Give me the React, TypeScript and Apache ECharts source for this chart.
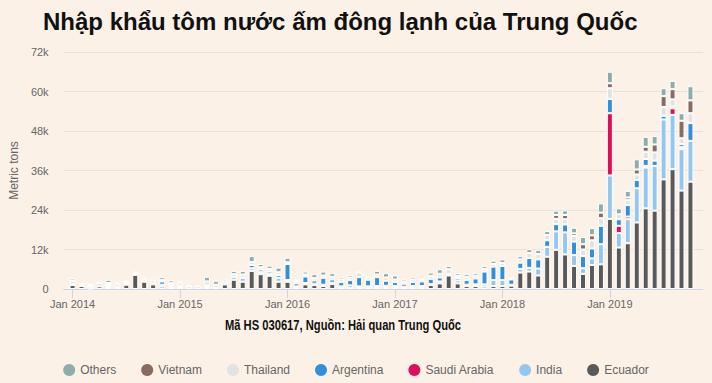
import { useEffect, useRef } from "react";
import * as echarts from "echarts";

// Monthly imports, thousand metric tons, Jan 2014 .. Oct 2019
const tickIndexes = [0, 12, 24, 36, 48, 60];
const tickLabels = ["Jan 2014", "Jan 2015", "Jan 2016", "Jan 2017", "Jan 2018", "Jan 2019"];
const yMax = 72;
const yStep = 12;

const ecuador = [
  1.2, 0.9, 0.1, 0.8, 0.6, 0.4, 1.3, 4.3, 2.2, 1.4, 0.7, 0.4,
  0.3, 0, 0, 0.6, 0.3, 1.4, 2.8, 2.2, 5.5, 4.5, 4.0, 2.2,
  2.2, 0.5, 1.4, 1.2, 0.9, 1.5, 0.4, 0.3, 0.6, 0.5, 0.6, 0.6,
  0.4, 0.3, 0.4, 0.5, 1.2, 1.7, 4.1, 1.7, 0.9, 0.9, 0.7, 0.9,
  0.9, 1.0, 5.0, 5.3, 4.1, 9.8, 11.9, 10.5, 7.0, 4.6, 7.3, 7.5,
  21.3, 12.6, 13.9, 20.2, 24.5, 23.8, 33.3, 36.4, 29.9, 32.6,
];
const india = [
  0.5, 0.2, 0.6, 0, 0.6, 0.3, 0.3, 0, 0.3, 0.5, 0.6, 0.5,
  0.4, 0, 0, 0.5, 0, 0, 0.9, 1.2, 0.8, 0.6, 0.6, 1.2,
  0.5, 0.3, 0.4, 0.4, 0.4, 0.4, 0.4, 0.8, 0.2, 0.3, 0.3, 0.4,
  0.5, 0.4, 0.5, 0.4, 0.3, 0.6, 0.5, 0.9, 0.4, 0.5, 0.7, 1.8,
  1.8, 0.3, 1.1, 1.1, 2.1, 3.0, 5.6, 6.7, 3.3, 1.7, 2.0, 6.1,
  13.2, 4.4, 7.3, 10.4, 12.4, 13.6, 18.2, 16.5, 12.6, 12.4,
];
const saudiArabia = [
  0, 0, 0, 0, 0, 0, 0, 0, 0, 0, 0, 0,
  0, 0, 0, 0, 0, 0, 0, 0, 0, 0, 0, 0,
  0, 0, 0, 0, 0, 0, 0, 0, 0, 0, 0, 0,
  0, 0, 0, 0, 0, 0, 0, 0, 0, 0, 0, 0,
  0, 0, 0, 0, 0, 0, 0, 0, 0, 0, 0, 0,
  18.9, 2.2, 0.8, 0, 0.5, 0, 0, 2.0, 0.6, 0,
];
const argentina = [
  0.6, 0, 0, 0, 0, 0, 0, 0, 0, 0, 1.0, 0.4,
  0.3, 0, 0, 0, 0, 0, 0, 0, 1.0, 0.8, 0.7, 0.8,
  4.9, 0.9, 2.0, 1.0, 2.1, 1.0, 1.3, 1.6, 2.8, 2.0, 2.7, 1.5,
  1.2, 0.9, 1.2, 1.4, 1.6, 1.2, 0, 0.7, 1.4, 1.8, 3.9, 4.1,
  4.3, 1.6, 1.9, 3.0, 2.8, 2.0, 2.2, 2.4, 4.1, 3.7, 3.0, 5.6,
  4.3, 2.0, 3.5, 2.5, 2.1, 1.6, 1.1, 0.5, 0.9, 5.4,
];
const thailand = [
  0.3, 0.3, 0.5, 1.0, 0.6, 0.9, 0.6, 0.6, 0.6, 0.8, 0.5, 0.6,
  0.9, 0.8, 0.8, 1.2, 1.0, 0.9, 0.8, 1.0, 0.9, 0.7, 0.8, 0.9,
  0.5, 0.7, 0.6, 0.7, 0.7, 0.8, 0.8, 0.8, 1.4, 0.7, 0.8, 1.0,
  0.8, 0.7, 0.8, 0.6, 0.9, 1.1, 1.4, 0.7, 0.9, 0.8, 0.8, 0.8,
  0.9, 0.5, 1.0, 1.5, 1.6, 1.6, 1.6, 1.6, 1.7, 2.0, 2.5, 2.3,
  3.3, 1.5, 1.5, 1.7, 2.2, 2.5, 2.7, 2.2, 1.8, 3.0,
];
const vietnam = [
  0, 0, 0, 0, 0, 0, 0, 0, 0, 0, 0, 0,
  0, 0, 0, 0, 0, 0, 0, 0, 0, 0, 0, 0,
  0, 0, 0, 0, 0, 0, 0, 0, 0, 0, 0, 0,
  0, 0, 0, 0, 0, 0, 0, 0, 0, 0, 0, 0,
  0, 0, 0, 0, 0, 0, 1.2, 1.3, 0.8, 1.6, 1.5, 1.7,
  1.5, 0, 0.8, 1.5, 1.5, 2.4, 3.3, 3.1, 5.3, 3.9,
];
const others = [
  0.7, 0.3, 0.2, 0.2, 1.0, 0.4, 0.3, 0.4, 0.6, 0.7, 0.9, 0.8,
  0.5, 0.4, 0.4, 1.4, 1.2, 0.6, 1.0, 1.1, 1.8, 1.0, 1.0, 1.4,
  1.4, 0.5, 0.9, 1.2, 1.2, 1.1, 0.7, 0.8, 0.3, 0.5, 1.1, 1.3,
  1.2, 0.7, 0.8, 0.5, 1.0, 1.4, 1.0, 0.8, 0.9, 0.8, 0.9, 1.0,
  1.1, 0, 1.0, 1.2, 1.3, 1.2, 1.3, 1.4, 1.7, 2.2, 2.2, 2.8,
  3.5, 1.8, 2.0, 3.1, 3.0, 2.6, 2.4, 2.5, 2.3, 4.3,
];

const seriesNames = ["Ecuador", "India", "Saudi Arabia", "Argentina", "Thailand", "Vietnam", "Others"];
const seriesValues = [ecuador, india, saudiArabia, argentina, thailand, vietnam, others];
const seriesColors = ["#595959", "#93c7f0", "#dc0f5a", "#3190dd", "#e2e2e2", "#8a6b61", "#8caeab"];
const legendOrder = ["Others", "Vietnam", "Thailand", "Argentina", "Saudi Arabia", "India", "Ecuador"];

const titleText = "Nhập khẩu tôm nước ấm đông lạnh của Trung Quốc";
const sourceText = "Mã HS 030617, Nguồn: Hải quan Trung Quốc";
const yAxisTitle = "Metric tons";

export default function App() {
  const ref = useRef<HTMLDivElement>(null);
  useEffect(() => {
    if (!ref.current) return;
    const chart = echarts.init(ref.current, null, { renderer: "svg" });
    const font = "'Liberation Sans', Arial, sans-serif";
    chart.setOption({
      animation: false,
      backgroundColor: "#fcf1e6",
      textStyle: { fontFamily: font },
      title: {
        text: titleText,
        left: 38,
        top: 4,
        textStyle: { fontSize: 24, fontWeight: "bold", color: "#111", fontFamily: font },
      },
      graphic: [
        {
          type: "text",
          x: 343,
          y: 326,
          scaleX: 0.8,
          style: {
            text: sourceText,
            align: "center",
            verticalAlign: "middle",
            fontSize: 14,
            fontWeight: "bold",
            fontFamily: font,
            fill: "#111",
          },
        },
      ],
      legend: {
        data: legendOrder,
        left: "center",
        top: 359,
        icon: "circle",
        itemWidth: 12,
        itemHeight: 12,
        itemGap: 25,
        itemStyle: { borderWidth: 0 },
        textStyle: { fontSize: 12, color: "#666", fontFamily: font },
      },
      grid: { left: 59, right: 9, top: 52, bottom: 94 },
      xAxis: {
        type: "value",
        min: -1,
        max: 70.4,
        splitLine: { show: false },
        axisLine: { show: true, lineStyle: { color: "#ccd6eb" } },
        axisTick: { show: true, length: 9, customValues: tickIndexes, lineStyle: { color: "#ccd6eb" } },
        axisLabel: {
          customValues: tickIndexes,
          formatter: (v: number) => tickLabels[tickIndexes.indexOf(Math.round(v))] ?? "",
          color: "#666",
          fontSize: 11,
          margin: 9,
          fontFamily: font,
        },
      },
      yAxis: {
        type: "value",
        min: 0,
        max: yMax,
        interval: yStep,
        name: yAxisTitle,
        nameLocation: "middle",
        nameGap: 43,
        nameTextStyle: { color: "#666", fontSize: 12, fontFamily: font },
        axisLine: { show: false },
        axisTick: { show: false },
        splitLine: { lineStyle: { color: "#e6e2de" } },
        axisLabel: {
          formatter: (v: number) => (v === 0 ? "0" : `${v}k`),
          color: "#666",
          fontSize: 11,
          margin: 15,
          fontFamily: font,
        },
      },
      series: seriesNames.map((name, s) => ({
        name,
        type: "bar",
        stack: "total",
        barWidth: 6,
        encode: { x: 1, y: 0 },
        itemStyle: { color: seriesColors[s], borderColor: "#ffffff", borderWidth: 1 },
        data: seriesValues[s].map((v, i) => [v === 0 ? "-" : v, i]),
      })),
    });
    return () => chart.dispose();
  }, []);
  return (
    <div
      ref={ref}
      style={{ position: "absolute", left: 0, top: 0, width: 712, height: 383 }}
    />
  );
}
